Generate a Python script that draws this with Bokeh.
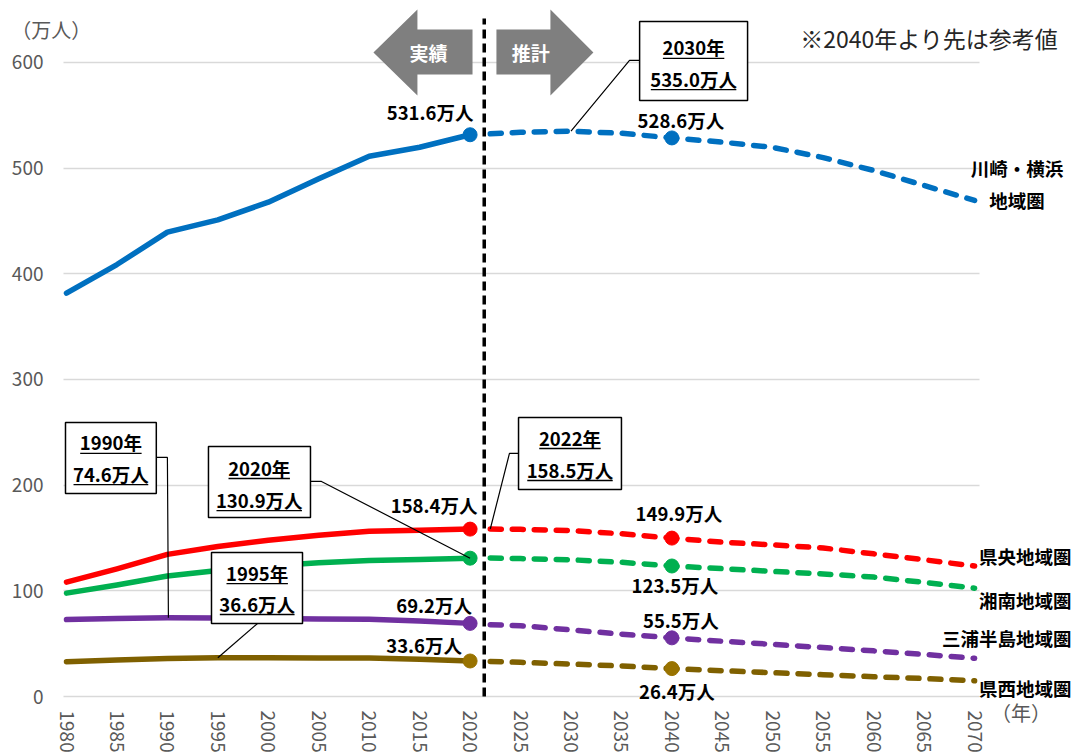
from bokeh.plotting import figure
from bokeh.models import FixedTicker, Range1d
from bokeh.core.properties import value
from bokeh.embed import file_html
from bokeh.resources import INLINE

# ---------------- data ----------------
years_hist = [1980, 1985, 1990, 1995, 2000, 2005, 2010, 2015, 2020]
years_proj = [2022, 2025, 2030, 2035, 2040, 2045, 2050, 2055, 2060, 2065, 2070]

kawasaki_hist = [381.7, 408.8, 439.4, 451.1, 467.8, 489.9, 511.3, 519.8, 531.6]
kawasaki_proj = [532.5, 534.0, 535.0, 533.0, 528.6, 524.6, 519.6, 510.0, 497.8, 483.6, 469.4]
kenou_hist = [108.2, 120.8, 134.5, 142.0, 147.8, 152.5, 156.3, 157.3, 158.4]
kenou_proj = [158.5, 158.2, 157.0, 154.0, 149.9, 146.0, 143.5, 140.5, 135.0, 129.4, 123.4]
shonan_hist = [97.8, 105.5, 114.0, 119.3, 123.4, 126.6, 128.8, 129.7, 130.9]
shonan_proj = [131.0, 130.5, 129.4, 127.0, 123.5, 121.0, 118.4, 116.0, 113.0, 108.0, 102.5]
miura_hist = [72.8, 73.9, 74.6, 74.4, 73.7, 73.4, 73.1, 71.4, 69.2]
miura_proj = [68.0, 67.0, 63.0, 59.0, 55.5, 52.3, 49.3, 46.3, 43.2, 39.8, 36.2]
kensei_hist = [32.9, 34.5, 36.0, 36.6, 36.6, 36.5, 36.4, 35.3, 33.6]
kensei_proj = [33.2, 32.3, 30.7, 28.9, 26.4, 24.4, 22.5, 20.6, 18.7, 17.0, 14.9]

region_names = ["川崎・横浜\n地域圏", "県央地域圏", "湘南地域圏", "三浦半島地域圏", "県西地域圏"]
x_ticks = list(range(1980, 2071, 5))
y_ticks = [0, 100, 200, 300, 400, 500, 600]

# ---------------- layout constants ----------------
W, H = 1080, 755
ML, MR, MT, MB = 4, 0, 0, 25
FW, FH = W - ML - MR, H - MT - MB
PX_PER_YEAR = 10.09
PX_PER_UNIT = 1.0567
X0 = 1980 - (66 - ML) / PX_PER_YEAR          # 1980 sits 66 px from the left edge
X1 = X0 + FW / PX_PER_YEAR
Y0 = -((H - MB) - 696) / PX_PER_UNIT          # value 0 sits 696 px from the top
Y1 = Y0 + FH / PX_PER_UNIT
GRID_X0 = 1979.7
GRID_X1 = 2070.5

FONT = "Noto Sans CJK JP"

p = figure(width=W, height=H, x_range=Range1d(X0, X1), y_range=Range1d(Y0, Y1),
           output_backend="svg", toolbar_location=None,
           min_border_left=ML, min_border_right=MR, min_border_top=MT, min_border_bottom=MB)
p.outline_line_color = None
p.background_fill_color = "white"
p.border_fill_color = "white"
p.xgrid.visible = False
p.ygrid.grid_line_color = "#D9D9D9"
p.ygrid.grid_line_width = 1.5
p.ygrid.cross_bounds = (GRID_X0, GRID_X1)
p.xaxis.ticker = FixedTicker(ticks=x_ticks)
p.yaxis.ticker = FixedTicker(ticks=y_ticks)
for ax in p.axis:
    ax.axis_line_color = None
    ax.major_tick_line_color = None
    ax.minor_tick_line_color = None
    ax.major_tick_out = 0
    ax.major_tick_in = 0
    ax.major_label_text_font = FONT
    ax.major_label_text_color = "#595959"
p.yaxis.major_label_text_font_size = "19px"
p.yaxis.major_label_standoff = ML - 43
p.xaxis.major_label_text_font_size = "19px"
p.xaxis.major_label_orientation = "vertical"
p.xaxis.major_label_standoff = 710 - (H - MB)

# ---------------- series ----------------
series = [
    (kawasaki_hist, kawasaki_proj, "#0070C0", "#0070C0"),
    (kenou_hist, kenou_proj, "#FF0000", "#FF0000"),
    (shonan_hist, shonan_proj, "#00B050", "#00B050"),
    (miura_hist, miura_proj, "#7030A0", "#7030A0"),
    (kensei_hist, kensei_proj, "#7F6000", "#997300"),
]
for hist, proj, col, mcol in series:
    p.line(years_hist, hist, line_color=col, line_width=5.5, line_join="round", line_cap="round")
    p.line(years_proj, proj, line_color=col, line_width=5.5, line_dash="11 11",
           line_join="round", line_cap="round")
    i20 = years_hist.index(2020)
    i40 = years_proj.index(2040)
    p.scatter([2020, 2040], [hist[i20], proj[i40]], size=14, fill_color=mcol, line_color=mcol)

# vertical divider between actual and projection
DIV_X = 2021.4
p.line([DIV_X, DIV_X], [0, 641.6], line_color="black", line_width=3.5, line_dash="9 5")

# ---------------- data labels ----------------
def fmt(v):
    return f"{v:.1f}万人"

lab_specs = [
    (2020, kawasaki_hist[-1], -40, -23),
    (2040, kawasaki_proj[4], 9, -18),
    (2020, kenou_hist[-1], -36, -24),
    (2040, kenou_proj[4], 7, -25),
    (2040, shonan_proj[4], 3, 19),
    (2020, miura_hist[-1], -36, -18),
    (2040, miura_proj[4], 9, -18),
    (2020, kensei_hist[-1], -46, -16),
    (2040, kensei_proj[4], 5, 22),
]
for x, v, dx, dy in lab_specs:
    p.text([x], [v], text=[fmt(v)], x_offset=dx, y_offset=dy, text_align="center",
           text_baseline="middle", text_font=value(FONT), text_font_style="bold",
           text_font_size="18.5px", text_color="black")

# ---------------- callouts ----------------
def text_px(s, size):
    w = 0.0
    for ch in s:
        if ch.isdigit():
            w += 0.58 * size
        elif ch == ".":
            w += 0.30 * size
        else:
            w += 1.0 * size
    return w

callouts = [
    dict(box=(2036.8, 2047.5, 564.0, 638.8), cx=2042.15, ty=(614.2, 584.8),
         lines=("2030年", fmt(kawasaki_proj[2])), lx=[2036.8, 2035.8, 2030], ly=[601.9, 601.9, kawasaki_proj[2]]),
    dict(box=(1979.9, 1988.9, 192.1, 259.3), cx=1984.4, ty=(240.4, 211.0),
         lines=("1990年", fmt(miura_hist[2])), lx=[1988.9, 1990.0, 1990.1], ly=[226.2, 226.2, miura_hist[2]]),
    dict(box=(1994.07, 2004.18, 169.4, 236.6), cx=1999.1, ty=(216.7, 186.4),
         lines=("2020年", fmt(shonan_hist[-1])), lx=[2004.18, 2005.27, 2020], ly=[203.5, 203.5, shonan_hist[-1]]),
    dict(box=(1994.37, 2003.39, 69.1, 136.3), cx=1998.9, ty=(117.3, 88.0),
         lines=("1995年", fmt(kensei_hist[3])), lx=[1998.93, 1995], ly=[69.1, kensei_hist[3]]),
    dict(box=(2024.8, 2035.0, 195.9, 264.0), cx=2029.9, ty=(245.1, 214.8),
         lines=("2022年", fmt(kenou_proj[0])), lx=[2024.8, 2023.9, 2022], ly=[230.0, 230.0, kenou_proj[0]]),
]
for c in callouts:
    p.line(c["lx"], c["ly"], line_color="black", line_width=1.2)
for c in callouts:
    x0, x1, y0, y1 = c["box"]
    p.quad(left=[x0], right=[x1], bottom=[y0], top=[y1], fill_color="white",
           line_color="black", line_width=1.5)
    for s, ty in zip(c["lines"], c["ty"]):
        p.text([c["cx"]], [ty], text=[s], text_align="center", text_baseline="middle",
               text_font=value(FONT), text_font_style="bold", text_font_size="18.5px",
               text_color="black")
        half = text_px(s, 18.5) / 2 / PX_PER_YEAR
        uy = ty - 11 / PX_PER_UNIT
        p.line([c["cx"] - half, c["cx"] + half], [uy, uy], line_color="black", line_width=1.3)

# ---------------- arrows ----------------
ARROW_GRAY = "#7F7F7F"
left_arrow_x = [2010.42, 2014.78, 2014.78, 2020.24, 2020.24, 2014.78, 2014.78]
left_arrow_y = [609.4, 650.1, 631.2, 631.2, 588.6, 588.6, 568.8]
right_arrow_x = [2032.22, 2027.96, 2027.96, 2022.61, 2022.61, 2027.96, 2027.96]
right_arrow_y = [609.4, 650.1, 631.2, 631.2, 588.6, 588.6, 568.8]
p.patch(left_arrow_x, left_arrow_y, fill_color=ARROW_GRAY, line_color=None)
p.patch(right_arrow_x, right_arrow_y, fill_color=ARROW_GRAY, line_color=None)
p.text([2015.87, 2026.0], [609.4, 609.4], text=["実績", "推計"], text_align="center",
       text_baseline="middle", text_font=value(FONT), text_font_size="19px",
       text_font_style="bold", text_color="white")

# ---------------- free texts ----------------
def add_text(x, y, s, size, color="black", bold=False, align="center"):
    p.text([x], [y], text=[s], text_font=value(FONT), text_font_size=size,
           text_color=color, text_font_style="bold" if bold else "normal",
           text_align=align, text_baseline="middle")

add_text(1978.5, 631.2, "（万人）", "20px", color="#595959")
add_text(2065.5, 623.6, "※2040年より先は参考値", "23px", color="#262626")
add_text(2074.6, -15.1, "（年）", "20px", color="#595959")

name_lines = region_names[0].split("\n")
add_text(2074.2, 500.6, name_lines[0], "18.5px", bold=True)
add_text(2074.2, 470.3, name_lines[1], "18.5px", bold=True)
RX = 2079.6
add_text(RX, 132.5, region_names[1], "18.5px", bold=True, align="right")
add_text(RX, 90.9, region_names[2], "18.5px", bold=True, align="right")
add_text(RX, 55.8, region_names[3], "18.5px", bold=True, align="right")
add_text(RX, 8.5, region_names[4], "18.5px", bold=True, align="right")

open("out.html", "w").write(file_html(p, INLINE))
